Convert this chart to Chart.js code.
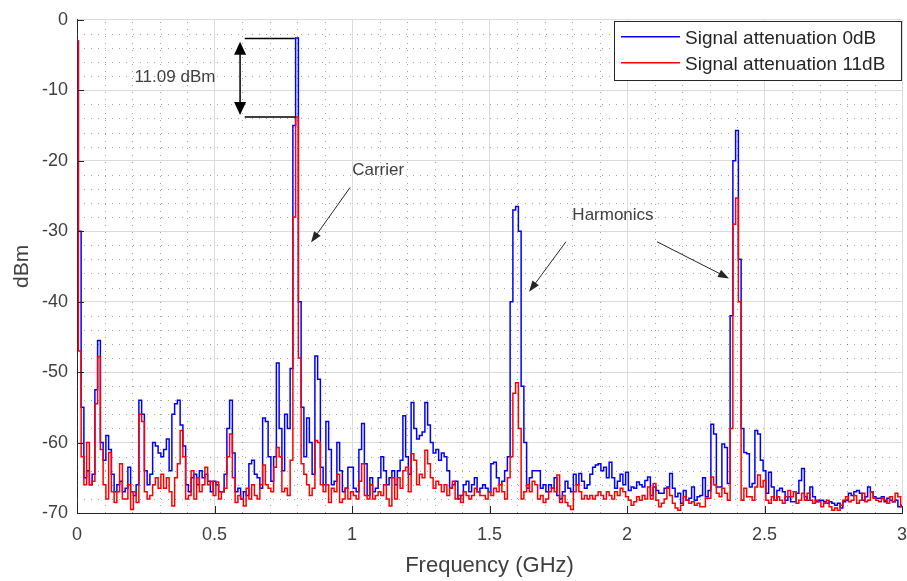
<!DOCTYPE html>
<html>
<head>
<meta charset="utf-8">
<script src="https://cdn.jsdelivr.net/npm/chart.js@4.4.1/dist/chart.umd.min.js"></script>
<style>
  html, body { margin: 0; padding: 0; background: #fff; }
  #spectrum { display: block; }
</style>
</head>
<body>
<canvas id="spectrum" width="907" height="581"></canvas>
<script>
// espectro 0 - 3 GHz, um ponto a cada 10 MHz
const freqGHz = [];
for (let i = 0; i <= 300; i++) freqGHz.push(+(i * 0.01).toFixed(2));

const seriesLabels = ['Signal attenuation 0dB', 'Signal attenuation 11dB'];
const seriesColors = ['#0000ff', '#ff0000'];

// atenuacao 0 dB (dBm)
const att0dB = [
  -3, -30, -55, -65, -64, -66, -64.5, -52.5, -45.5, -60,
  -62.5, -59, -61, -64.5, -67, -66, -65.5, -67, -66.5, -63.5,
  -67, -67.5, -66, -54, -56, -64, -66, -64.5, -60, -60.5,
  -61.5, -62, -61, -59.5, -64, -56, -54.5, -54, -57.5, -60.5,
  -66, -67, -65, -64.5, -66, -64, -65, -64.5, -65.5, -67,
  -65.5, -66, -67, -67, -64.5, -58, -54, -61.5, -67, -66.5,
  -68, -67, -67.5, -63, -62.5, -64.5, -65, -66.5, -56.5, -57,
  -62, -65.5, -62, -48.7, -58, -64, -56, -58, -49.5, -15,
  -2.6, -40, -55, -62, -56.5, -60, -64.5, -47.7, -51, -63.5,
  -66, -57, -61, -66, -65.5, -60, -64, -67, -66.5, -63.5,
  -63.5, -66.5, -67, -61, -57.3, -63, -67.5, -65, -67, -66.5,
  -65, -62, -64, -66, -65, -64, -66, -64, -62.5, -56.2,
  -62, -64.5, -54.3, -58, -59.5, -59, -58.5, -54.3, -57.5, -60,
  -61.5, -61, -62.5, -61.5, -62, -64, -66.5, -66, -65.5, -68,
  -67.5, -66, -65.5, -67, -66, -65, -67, -66.5, -66, -66.5,
  -67, -63, -62.8, -65, -66, -65.5, -64, -62, -40, -27,
  -26.5, -30, -52, -60, -66.5, -65, -64, -64, -64, -66.5,
  -66, -67, -66, -66.5, -65, -67.5, -68, -67, -65.5, -66.5,
  -67, -64.5, -66, -64.4, -65.5, -66.5, -66, -64.5, -63.5, -63.2,
  -63, -64, -63.5, -65, -62.8, -65, -66.5, -65.5, -64.5, -66,
  -64.2, -66.8, -66.3, -66.5, -65.6, -66, -66.3, -65.4, -64.9, -67.5,
  -66.3, -66.8, -67.2, -67.2, -66.5, -66.3, -64.4, -66.5, -67.7, -67.2,
  -68.6, -66.8, -68.2, -67.9, -66.3, -68.2, -67.7, -67.5, -65, -67.7,
  -66.8, -57.4, -58.8, -66.3, -66.3, -60.2, -60.7, -65.8, -42, -20,
  -15.7, -34, -58, -61.4, -61.6, -66.3, -65.8, -58.3, -58.8, -62.5,
  -64, -67.2, -64.2, -66.3, -68.2, -66.8, -66.5, -67, -68.2, -67.7,
  -68.4, -68.4, -67.2, -65.4, -63.7, -67.7, -68.2, -66.3, -67.7, -68.4,
  -68.2, -68.2, -68.4, -68.6, -68.4, -68.6, -68.9, -68.6, -69.3, -68.4,
  -68.2, -67.2, -67.5, -67, -66.8, -67.2, -68.2, -67.7, -66.3, -67,
  -67.7, -67.9, -67.9, -67.7, -68.4, -67.9, -68.2, -68.4, -68.2, -69.1,
  -68.9
];

// atenuacao 11 dB (dBm)
const att11dB = [
  -3, -47, -62, -66, -60, -66, -65.5, -54.5, -47.8, -61,
  -66, -68, -61.4, -67, -68.5, -67, -63, -68, -68, -66,
  -69.5, -67, -68.5, -56, -57, -67, -68, -67.5, -66, -65,
  -66.5, -64.5, -66.5, -65, -67, -69, -65, -63, -58.3, -62,
  -68, -67.5, -64, -68, -65, -67, -66, -63.5, -66, -65.5,
  -67.5, -65.6, -68, -67, -66.5, -62, -58.8, -65, -68.5, -67.5,
  -68, -69, -66.5, -68, -66, -67.5, -68, -66, -63.2, -66,
  -66.5, -67, -63.5, -60.7, -62, -67, -66.5, -67.5, -62.5, -28,
  -13.8, -48, -63, -64.5, -66, -67.5, -66.5, -59.7, -60, -66,
  -67, -66, -68.5, -66.5, -67, -64.5, -68.5, -68, -66.5, -68,
  -67, -67.5, -68, -65.5, -63, -67.5, -68, -66, -68, -67.5,
  -67, -67.5, -66, -68, -69, -65, -68, -65, -66.5, -64,
  -63.5, -67, -61.6, -62.5, -66, -64.5, -65, -61.1, -63, -65,
  -66.5, -65.5, -66, -67, -66, -67.5, -66.5, -65.5, -68, -67.5,
  -68.5, -67, -67.5, -68, -67.5, -66.5, -67, -67.5, -67.5, -68,
  -67, -67.5, -66.5, -67, -66, -67, -68, -65, -62, -53,
  -51.5, -58, -68, -67, -66, -67, -65.5, -66, -68, -67.5,
  -68.5, -68, -67, -66.5, -67, -64.6, -68.5, -67.5, -68.5, -69,
  -69.5, -67, -66, -67, -68, -67.5, -68, -67.5, -68, -67.5,
  -67, -67.5, -68, -67, -67.5, -68, -67, -67.5, -66.5, -67,
  -67.7, -68.2, -68.9, -68.4, -67.7, -68.2, -67.5, -68, -66.3, -68,
  -65.8, -68.2, -69.1, -68.6, -68, -66.5, -67.5, -68.6, -69.3, -69.6,
  -68.9, -67.7, -68.2, -68.6, -68.4, -68.9, -68.6, -69.1, -69.1, -67.9,
  -67.9, -64.9, -66, -67.2, -67.7, -66.5, -67.2, -68.2, -58, -29,
  -25.3, -40, -68.2, -66.5, -67.7, -67.7, -68.2, -66.3, -64.6, -66.3,
  -65.4, -68.2, -68.6, -67.7, -68.2, -67.7, -68.2, -68.6, -67.7, -66.8,
  -67.7, -67, -68.6, -68.2, -67.2, -68.2, -67.2, -68.2, -68.6, -68.2,
  -68.4, -69.1, -68.6, -68.2, -69.1, -69.6, -69.3, -69.6, -68.9, -68.2,
  -67.7, -68.4, -68.2, -67.5, -68.6, -68.2, -67.2, -68.4, -68.2, -67,
  -67.9, -68.2, -68.4, -67.9, -68.2, -68.6, -67.7, -68.4, -67.2, -67.7,
  -69.1
];

const FONT = '"Liberation Sans", Arial, Helvetica, sans-serif';
const TEXT = '#404040';

// grade secundaria pontilhada (0.1 GHz / 2 dB)
const xMinor = [], yMinor = [];
for (let i = 1; i < 30; i++) if (i % 5) xMinor.push(i / 10);
for (let v = -68; v < 0; v += 2) if (v % 10) yMinor.push(v);

const minorGrid = {
  id: 'minorGrid',
  beforeDatasetsDraw(chart) {
    const { ctx, chartArea: a, scales: { x, y } } = chart;
    ctx.save();
    ctx.strokeStyle = 'rgba(90,90,90,0.55)';
    ctx.lineWidth = 1;
    ctx.setLineDash([1, 6]);
    ctx.beginPath();
    xMinor.forEach(v => {
      const px = Math.round(x.getPixelForValue(v)) + 0.5;
      ctx.moveTo(px, a.bottom); ctx.lineTo(px, a.top);
    });
    yMinor.forEach(v => {
      const py = Math.round(y.getPixelForValue(v)) + 0.5;
      ctx.moveTo(a.left, py); ctx.lineTo(a.right, py);
    });
    ctx.stroke();
    ctx.restore();
  }
};

// ticks para dentro, estilo matlab
const innerTicks = {
  id: 'innerTicks',
  afterDatasetsDraw(chart) {
    const { ctx, chartArea: a, scales: { x, y } } = chart;
    ctx.save();
    ctx.strokeStyle = '#262626';
    ctx.lineWidth = 1;
    ctx.beginPath();
    x.ticks.forEach(t => {
      const px = Math.round(x.getPixelForValue(t.value)) + 0.5;
      ctx.moveTo(px, a.bottom); ctx.lineTo(px, a.bottom - 7);
    });
    y.ticks.forEach(t => {
      const py = Math.round(y.getPixelForValue(t.value)) + 0.5;
      ctx.moveTo(a.left, py); ctx.lineTo(a.left + 7, py);
    });
    ctx.stroke();
    ctx.restore();
  }
};

function arrowHead(ctx, x1, y1, x2, y2, len, wid) {
  const ang = Math.atan2(y2 - y1, x2 - x1);
  ctx.beginPath();
  ctx.moveTo(x2, y2);
  ctx.lineTo(x2 - len * Math.cos(ang) + wid / 2 * Math.sin(ang), y2 - len * Math.sin(ang) - wid / 2 * Math.cos(ang));
  ctx.lineTo(x2 - len * Math.cos(ang) - wid / 2 * Math.sin(ang), y2 - len * Math.sin(ang) + wid / 2 * Math.cos(ang));
  ctx.closePath();
  ctx.fill();
}

function arrow(ctx, x1, y1, x2, y2, len, wid) {
  const ang = Math.atan2(y2 - y1, x2 - x1);
  ctx.beginPath();
  ctx.moveTo(x1, y1);
  ctx.lineTo(x2 - len * 0.8 * Math.cos(ang), y2 - len * 0.8 * Math.sin(ang));
  ctx.stroke();
  arrowHead(ctx, x1, y1, x2, y2, len, wid);
}

// anotacoes em coordenadas de dados (GHz, dBm)
const annotations = {
  id: 'annotations',
  afterDraw(chart) {
    const { ctx, chartArea: a, scales: { x, y } } = chart;
    const X = v => x.getPixelForValue(v), Y = v => y.getPixelForValue(v);
    ctx.save();

    // diferenca entre portadoras
    ctx.strokeStyle = '#000'; ctx.fillStyle = '#000'; ctx.lineWidth = 1.5;
    ctx.beginPath();
    ctx.moveTo(X(0.61), Y(-2.65)); ctx.lineTo(X(0.792), Y(-2.65));
    ctx.moveTo(X(0.61), Y(-13.8)); ctx.lineTo(X(0.795), Y(-13.8));
    ctx.stroke();
    const ax = X(0.593);
    ctx.beginPath();
    ctx.moveTo(ax, Y(-4.5)); ctx.lineTo(ax, Y(-12));
    ctx.stroke();
    arrowHead(ctx, ax, Y(-8), ax, Y(-3.1), 13, 12);
    arrowHead(ctx, ax, Y(-8), ax, Y(-13.5), 13, 12);

    ctx.font = '17px ' + FONT;
    ctx.fillStyle = TEXT;
    ctx.textAlign = 'center'; ctx.textBaseline = 'middle';
    ctx.fillText('11.09 dBm', X(0.356), Y(-8.2));
    ctx.fillText('Carrier', X(1.095), Y(-21.4));
    ctx.fillText('Harmonics', X(1.949), Y(-27.8));

    ctx.strokeStyle = '#262626'; ctx.fillStyle = '#262626'; ctx.lineWidth = 1;
    arrow(ctx, X(0.993), Y(-23.8), X(0.851), Y(-31.6), 11, 8);
    arrow(ctx, X(1.778), Y(-31.5), X(1.644), Y(-38.6), 11, 8);
    arrow(ctx, X(2.109), Y(-31.5), X(2.371), Y(-36.7), 11, 8);

    // legenda
    const lw = 287, lh = 59;
    const lx = a.right - lw - 1, ly = a.top + 1;
    ctx.fillStyle = '#fff';
    ctx.fillRect(lx, ly, lw, lh);
    ctx.strokeStyle = '#262626'; ctx.lineWidth = 1;
    ctx.strokeRect(Math.round(lx) + 0.5, Math.round(ly) + 0.5, lw, lh);
    ctx.font = '19px ' + FONT;
    ctx.textAlign = 'left'; ctx.textBaseline = 'middle';
    seriesLabels.forEach((lab, i) => {
      const ry = ly + 16 + i * 26;
      ctx.strokeStyle = seriesColors[i]; ctx.lineWidth = 1.5;
      ctx.beginPath(); ctx.moveTo(lx + 7, ry); ctx.lineTo(lx + 66, ry); ctx.stroke();
      ctx.fillStyle = '#262626';
      ctx.fillText(lab, lx + 71, ry + 2);
    });
    ctx.restore();
  }
};

new Chart(document.getElementById('spectrum'), {
  type: 'line',
  data: {
    labels: freqGHz,
    datasets: [
      { label: seriesLabels[0], data: att0dB, borderColor: seriesColors[0], borderWidth: 1.5, order: 2 },
      { label: seriesLabels[1], data: att11dB, borderColor: seriesColors[1], borderWidth: 1.5, order: 1 }
    ]
  },
  options: {
    responsive: false,
    animation: false,
    devicePixelRatio: 1,
    layout: { padding: { top: 17, right: 5, left: 0, bottom: 0 } },
    elements: {
      point: { radius: 0 },
      line: { stepped: 'middle', tension: 0, fill: false }
    },
    plugins: { legend: { display: false }, tooltip: { enabled: false } },
    scales: {
      x: {
        type: 'linear', min: 0, max: 3,
        afterFit: s => { s.height = 68; s.paddingRight = 0; },
        grid: { color: '#dcdcdc', drawTicks: false },
        border: { color: '#262626', width: 1 },
        ticks: {
          stepSize: 0.5, padding: 11, color: TEXT, font: { family: FONT, size: 18 }, maxRotation: 0,
          callback: v => String(+v.toFixed(2))
        },
        title: { display: true, text: 'Frequency (GHz)', color: TEXT, font: { family: FONT, size: 22 }, padding: { top: 0, bottom: 2 } }
      },
      y: {
        min: -70, max: 0,
        afterFit: s => { s.width = 77; },
        grid: { color: '#dcdcdc', drawTicks: false },
        border: { color: '#262626', width: 1 },
        ticks: { stepSize: 10, padding: 9, color: TEXT, font: { family: FONT, size: 18 } },
        title: { display: true, text: 'dBm', color: TEXT, font: { family: FONT, size: 21 }, padding: { top: 10, bottom: 0 } }
      }
    }
  },
  plugins: [minorGrid, innerTicks, annotations]
});
</script>
</body>
</html>
